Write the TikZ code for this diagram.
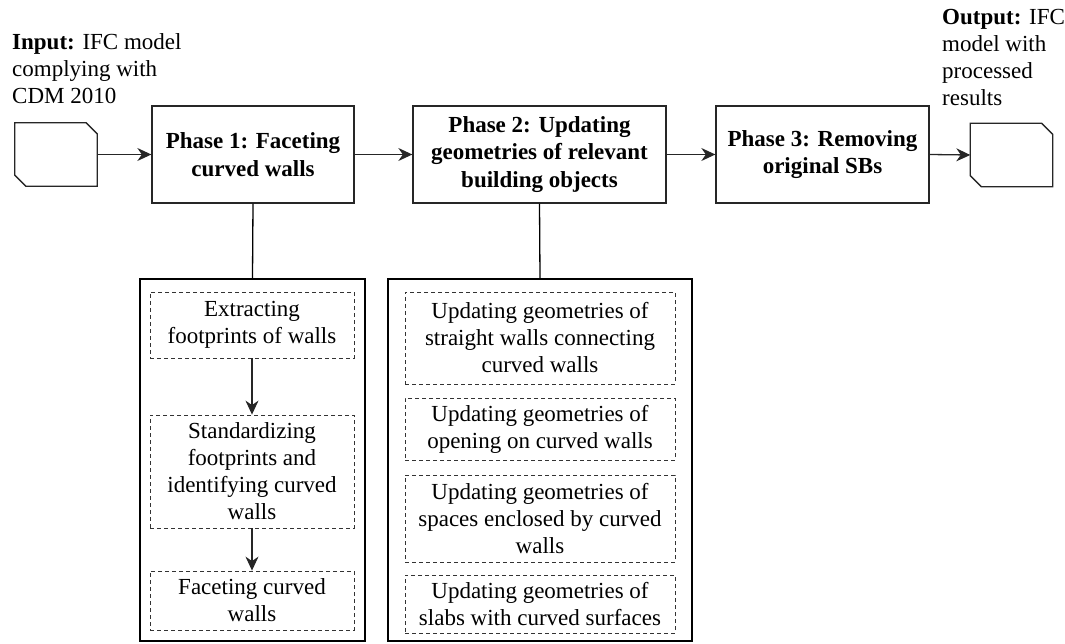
\documentclass[tikz,border=0pt]{standalone}
\usepackage{fontspec}
\setmainfont{Liberation Serif}
\usetikzlibrary{arrows.meta}
\begin{document}
\begin{tikzpicture}[x=1pt,y=-1pt,
  txt/.style={font=\fontsize{23}{27}\selectfont, inner sep=0pt},
  phase/.style={draw=black!85, line width=1.3pt, align=center, inner sep=0pt,
    font=\fontsize{23}{27.5}\selectfont\bfseries},
  group/.style={draw=black, line width=2.4pt, inner sep=0pt},
  stepbox/.style={draw=black!80, line width=0.8pt, dash pattern=on 4pt off 3pt,
    align=center, inner sep=0pt, font=\fontsize{23}{27}\selectfont},
  datafile/.style={minimum width=82pt, minimum height=63pt, inner sep=0pt},
  fileline/.style={draw=black!85, line width=1.3pt, line join=miter},
  arr/.style={line width=1.3pt, draw=black!85,
    -{Stealth[length=14pt,width=13pt,inset=4.5pt]}},
  link/.style={line width=1.3pt, draw=black}]
\useasboundingbox (0,0) rectangle (1065,644);

% input and output data, drawn as cards with two cut corners
\node[datafile] (in) at (56,154.5) {};
\node[datafile] (out) at (1011.5,155) {};
\foreach \f in {in,out}{
  \draw[fileline] (\f.north west) -- ([xshift=-11pt]\f.north east)
    -- ([yshift=-11pt]\f.north east) -- (\f.south east)
    -- ([xshift=11pt]\f.south west) -- ([yshift=11pt]\f.south west) -- cycle;
}
\node[txt, anchor=north west, align=left] (intext) at (12,33.5)
  {\textbf{Input:} IFC model\\complying with\\CDM 2010};
\node[txt, anchor=north west, align=left] (outtext) at (942,9.5)
  {\textbf{Output:} IFC\\model with\\processed\\results};

% the three phases
\node[phase, minimum width=202pt, minimum height=97pt] (p1) at (253,154.5)
  {Phase 1: Faceting\\curved walls};
\node[phase, minimum width=253pt, minimum height=97pt] (p2) at (539.5,154.5)
  {Phase 2: Updating\\geometries of relevant\\building objects};
\node[phase, minimum width=213pt, minimum height=97pt] (p3) at (822.5,154.5)
  {Phase 3: Removing\\original SBs};

% detail groups
\node[group, minimum width=225pt, minimum height=362pt] (g1) at (252.5,460) {};
\node[group, minimum width=304pt, minimum height=362pt] (g2) at (540,460) {};

% steps of phase 1
\node[stepbox, minimum width=204pt, minimum height=66pt] (s1) at (252,325)
  {Extracting\\footprints of walls};
\node[stepbox, minimum width=204pt, minimum height=113pt] (s2) at (252,471.5)
  {Standardizing\\footprints and\\identifying curved\\walls};
\node[stepbox, minimum width=204pt, minimum height=59pt] (s3) at (252,600.5)
  {Faceting curved\\walls};

% steps of phase 2
\node[stepbox, minimum width=270pt, minimum height=92pt] (t1) at (540,338)
  {Updating geometries of\\straight walls connecting\\curved walls};
\node[stepbox, minimum width=270pt, minimum height=62pt] (t2) at (540,429)
  {Updating geometries of\\opening on curved walls};
\node[stepbox, minimum width=270pt, minimum height=87pt] (t3) at (540,518.5)
  {Updating geometries of\\spaces enclosed by curved\\walls};
\node[stepbox, minimum width=270pt, minimum height=58pt] (t4) at (540,604)
  {Updating geometries of\\slabs with curved surfaces};

% main flow
\draw[arr] (in.east) -- (p1.west);
\draw[arr] (p1.east) -- (p2.west);
\draw[arr] (p2.east) -- (p3.west);
\draw[arr] (p3.east) -- (out.west);
\draw[link] (p1.south) -- (g1.north);
\draw[link] (p2.south) -- (g2.north);
\draw[arr] (s1.south) -- (s2.north);
\draw[arr] (s2.south) -- (s3.north);
\end{tikzpicture}
\end{document}
